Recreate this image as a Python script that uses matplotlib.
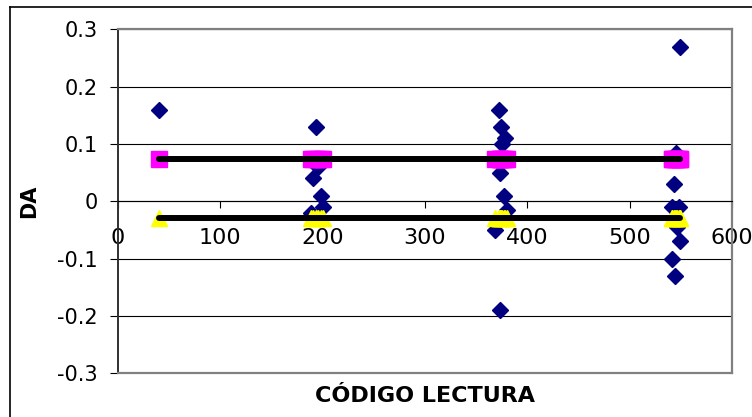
import matplotlib
matplotlib.use("Agg")
import matplotlib.pyplot as plt
from matplotlib.patches import Rectangle

# Data
codigo = [40,
          193, 195, 191, 198, 200, 189,
          372, 374, 378, 375, 373, 377, 380, 368.5, 373,
          549, 545, 543.5, 541, 548, 546, 549, 541, 544.5]
da = [0.16,
      0.13, 0.06, 0.04, 0.01, -0.01, -0.02,
      0.16, 0.13, 0.11, 0.10, 0.05, 0.01, -0.015, -0.05, -0.19,
      0.27, 0.085, 0.03, -0.01, -0.01, -0.045, -0.07, -0.10, -0.13]
upper_value = 0.074
lower_value = -0.029
x_ticks = [0, 100, 200, 300, 400, 500, 600]
y_ticks = [-0.3, -0.2, -0.1, 0, 0.1, 0.2, 0.3]
y_labels = ["-0.3", "-0.2", "-0.1", "0", "0.1", "0.2", "0.3"]

W, H = 752, 417
fig = plt.figure(figsize=(W / 100, H / 100), dpi=100)
fig.patch.set_facecolor("white")

# outer chart border (open to the right and bottom, as in the reference)
fig.add_artist(plt.Line2D([10 / W, 10 / W], [0, 1 - 7 / H],
                          transform=fig.transFigure, color="black", linewidth=1.2))
fig.add_artist(plt.Line2D([10 / W, 1], [1 - 7 / H, 1 - 7 / H],
                          transform=fig.transFigure, color="black", linewidth=1.2))

left, right, top, bottom = 118 / W, 732 / W, 1 - 29.3 / H, 1 - 373.3 / H
ax = fig.add_axes([left, bottom, right - left, top - bottom])
ax.set_xlim(0, 600)
ax.set_ylim(-0.3, 0.3)

# gridlines
for yv in y_ticks:
    ax.axhline(yv, color="black", linewidth=0.8, zorder=1)

# frame
for s in ["top", "right"]:
    ax.spines[s].set_color("#808080")
    ax.spines[s].set_linewidth(1.6)
ax.spines["left"].set_color("#303030")
ax.spines["left"].set_linewidth(1.4)
ax.spines["bottom"].set_position(("data", 0))
ax.spines["bottom"].set_color("black")
ax.spines["bottom"].set_linewidth(0.8)
ax.plot([0, 1], [0, 0], transform=ax.transAxes, color="#808080",
        linewidth=1.6, clip_on=False, zorder=5)

ax.set_xticks(x_ticks)
ax.set_xticklabels([str(v) for v in x_ticks])
ax.set_yticks(y_ticks)
ax.set_yticklabels(y_labels)
ax.tick_params(axis="x", direction="out", length=5, width=0.8, pad=14,
               labelsize=16, color="black")
ax.tick_params(axis="y", direction="out", length=6, width=0.8, pad=8.5,
               labelsize=15, color="black")

# data points
ax.plot(codigo, da, linestyle="none", marker="D", markersize=8,
        color="#000080", zorder=3)

xs = sorted(codigo)
ax.plot(xs, [upper_value] * len(xs), linestyle="none", marker="s",
        markersize=11.5, color="#FF00FF", zorder=4)
ax.plot(xs, [lower_value] * len(xs), linestyle="none", marker="^",
        markersize=11.5, color="#FFFF00", zorder=4)
ax.plot(xs, [upper_value] * len(xs), color="black", linewidth=4.3,
        solid_capstyle="round", zorder=6)
ax.plot(xs, [lower_value] * len(xs), color="black", linewidth=4.3,
        solid_capstyle="round", zorder=6)

ax.set_ylabel("DA", fontsize=15, fontweight="bold")
ax.yaxis.set_label_coords(-0.145, 0.5)
ax.yaxis.label.set_va("center")
ax.set_xlabel("CÓDIGO LECTURA", fontsize=16, fontweight="bold")
ax.xaxis.set_label_coords(0.5, -0.065)
ax.xaxis.label.set_va("center")

fig.savefig("out.png", dpi=100, facecolor="white")
